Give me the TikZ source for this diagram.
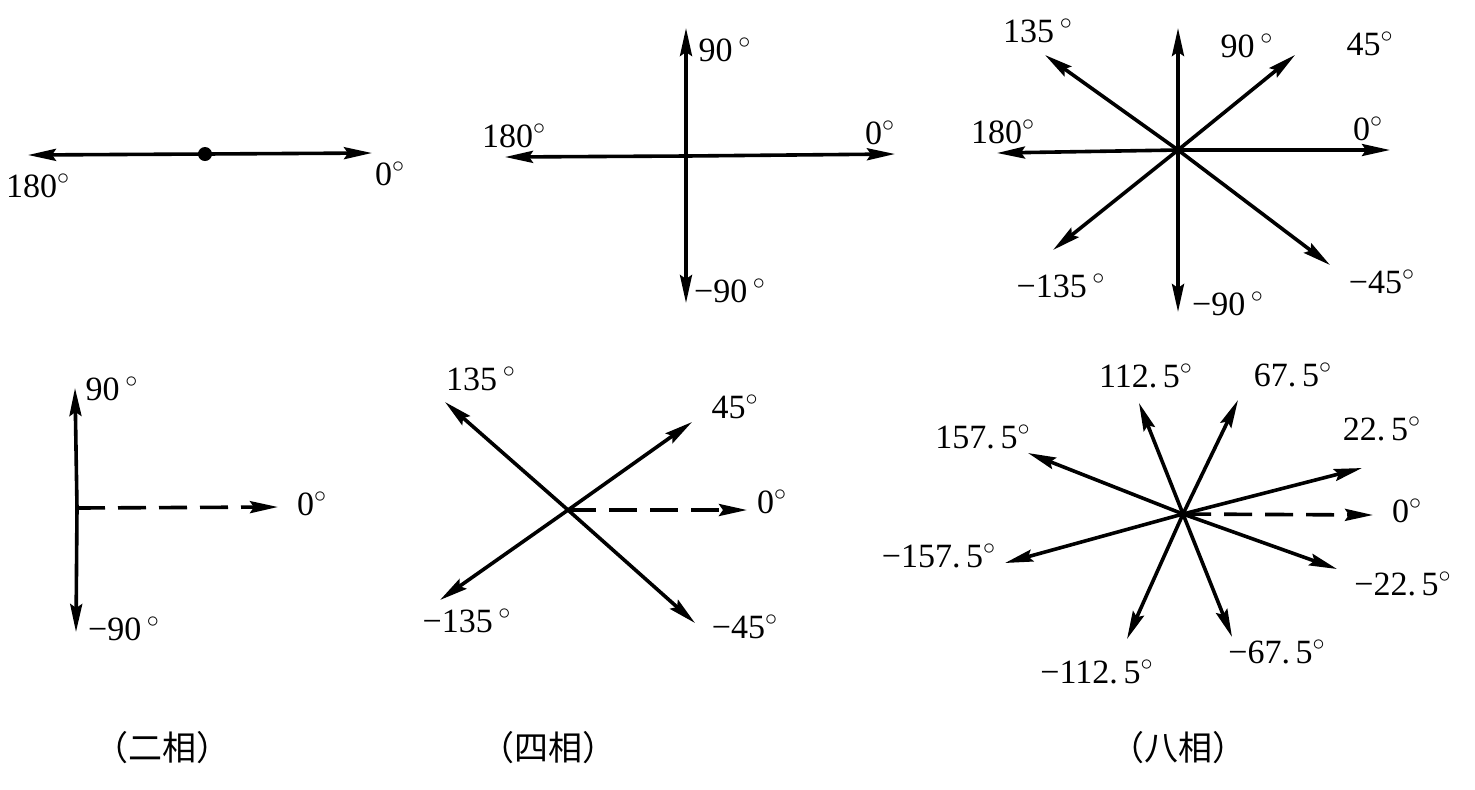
\documentclass[tikz,border=0pt]{standalone}
\usepackage{fontspec}
\setmainfont{Liberation Serif}
\newfontfamily\cjk{Noto Sans CJK SC}
\usetikzlibrary{arrows.meta}

\newcommand{\dg}{$^{\circ}$}

\begin{document}
\begin{tikzpicture}[x=0.5pt, y=-0.5pt,
        vec/.style={line width=1.8pt, -{Stealth[length=14pt, width=6pt, inset=2pt]}},
        dashvec/.style={vec, dash pattern=on 14pt off 6.5pt},
        deg/.style={font=\fontsize{17}{20}\selectfont, inner sep=0pt},
        caption/.style={font=\cjk\fontsize{17}{20}\selectfont, inner sep=0pt}]
        \useasboundingbox (0,0) rectangle (1475,789);

        % two phases, top
        \coordinate (twoA)      at (205,154);
        \coordinate (twoA0)     at (372,153);
        \coordinate (twoA180)   at (28,155);
        \draw[vec] (twoA) -- (twoA0);
        \draw[vec] (twoA) -- (twoA180);
        \fill (twoA) circle (3.5pt);
        \node[deg] (l-twoA180) at (38,186) {180\dg};
        \node[deg] (l-twoA0)   at (390,174) {0\dg};

        % four phases, top
        \coordinate (fourA)     at (686,156);
        \coordinate (fourA90)   at (686,28);
        \coordinate (fourAm90)  at (686,303);
        \coordinate (fourA180)  at (505,157);
        \coordinate (fourA0)    at (895,154);
        \draw[vec] (fourA) -- (fourA90);
        \draw[vec] (fourA) -- (fourAm90);
        \draw[vec] (fourA) -- (fourA180);
        \draw[vec] (fourA) -- (fourA0);
        \node[deg] (l-fourA90)  at (725,50) {90\,\dg};
        \node[deg] (l-fourAm90) at (730,291) {−90\,\dg};
        \node[deg] (l-fourA180) at (514,136) {180\dg};
        \node[deg] (l-fourA0)   at (880,133) {0\dg};

        % eight phases, top
        \coordinate (eightA)     at (1178,150);
        \coordinate (eightA0)    at (1390,150);
        \coordinate (eightA45)   at (1295,55);
        \coordinate (eightA90)   at (1178,28);
        \coordinate (eightA135)  at (1045,55);
        \coordinate (eightA180)  at (997,153);
        \coordinate (eightAm135) at (1053,250);
        \coordinate (eightAm90)  at (1178,312);
        \coordinate (eightAm45)  at (1330,265);
        \draw[vec] (eightA) -- (eightA0);
        \draw[vec] (eightA) -- (eightA45);
        \draw[vec] (eightA) -- (eightA90);
        \draw[vec] (eightA) -- (eightA135);
        \draw[vec] (eightA) -- (eightA180);
        \draw[vec] (eightA) -- (eightAm135);
        \draw[vec] (eightA) -- (eightAm90);
        \draw[vec] (eightA) -- (eightAm45);
        \node[deg] (l-eightA135)  at (1038,31) {135\,\dg};
        \node[deg] (l-eightA90)   at (1247,46) {90\,\dg};
        \node[deg] (l-eightA45)   at (1370,44) {45\dg};
        \node[deg] (l-eightA180)  at (1003,132) {180\dg};
        \node[deg] (l-eightA0)    at (1368,129) {0\dg};
        \node[deg] (l-eightAm135) at (1061,286) {−135\,\dg};
        \node[deg] (l-eightAm90)  at (1228,304) {−90\,\dg};
        \node[deg] (l-eightAm45)  at (1382,282) {−45\dg};

        % two phases, bottom
        \coordinate (twoB)      at (77,508);
        \coordinate (twoB90)    at (75,388);
        \coordinate (twoBm90)   at (76,632);
        \coordinate (twoB0)     at (278,507);
        \draw[vec] (twoB) -- (twoB90);
        \draw[vec] (twoB) -- (twoBm90);
        \draw[dashvec] (twoB) -- (twoB0);
        \node[deg] (l-twoB90)  at (112,389) {90\,\dg};
        \node[deg] (l-twoBm90) at (124,629) {−90\,\dg};
        \node[deg] (l-twoB0)   at (312,504) {0\dg};

        % four phases, bottom
        \coordinate (fourB)      at (568,510);
        \coordinate (fourB45)    at (692,422);
        \coordinate (fourB135)   at (445,402);
        \coordinate (fourBm135)  at (440,600);
        \coordinate (fourBm45)   at (695,623);
        \coordinate (fourB0)     at (747,510);
        \draw[vec] (fourB) -- (fourB45);
        \draw[vec] (fourB) -- (fourB135);
        \draw[vec] (fourB) -- (fourBm135);
        \draw[vec] (fourB) -- (fourBm45);
        \draw[dashvec] (fourB) -- (fourB0);
        \node[deg] (l-fourB135)  at (481,379) {135\,\dg};
        \node[deg] (l-fourB45)   at (735,407) {45\dg};
        \node[deg] (l-fourB0)    at (772,502) {0\dg};
        \node[deg] (l-fourBm135) at (467,621) {−135\,\dg};
        \node[deg] (l-fourBm45)  at (745,627) {−45\dg};

        % eight phases, bottom
        \coordinate (eightB)       at (1183,514);
        \coordinate (eightB22)     at (1362,468);
        \coordinate (eightB67)     at (1238,400);
        \coordinate (eightB112)    at (1139,403);
        \coordinate (eightB157)    at (1028,453);
        \coordinate (eightBm157)   at (1005,563);
        \coordinate (eightBm112)   at (1127,639);
        \coordinate (eightBm67)    at (1232,637);
        \coordinate (eightBm22)    at (1337,569);
        \coordinate (eightB0)      at (1373,515);
        \draw[vec] (eightB) -- (eightB22);
        \draw[vec] (eightB) -- (eightB67);
        \draw[vec] (eightB) -- (eightB112);
        \draw[vec] (eightB) -- (eightB157);
        \draw[vec] (eightB) -- (eightBm157);
        \draw[vec] (eightB) -- (eightBm112);
        \draw[vec] (eightB) -- (eightBm67);
        \draw[vec] (eightB) -- (eightBm22);
        \draw[dashvec] (eightB) -- (eightB0);
        \node[deg] (l-eightB112)  at (1146,376) {112.\,5\dg};
        \node[deg] (l-eightB67)   at (1293,375) {67.\,5\dg};
        \node[deg] (l-eightB157)  at (983,437) {157.\,5\dg};
        \node[deg] (l-eightB22)   at (1382,429) {22.\,5\dg};
        \node[deg] (l-eightB0)    at (1407,511) {0\dg};
        \node[deg] (l-eightBm157) at (939,556) {−157.\,5\dg};
        \node[deg] (l-eightBm22)  at (1403,584) {−22.\,5\dg};
        \node[deg] (l-eightBm67)  at (1277,652) {−67.\,5\dg};
        \node[deg] (l-eightBm112) at (1097,672) {−112.\,5\dg};

        % captions
        \node[caption] (cap-two)   at (162,748) {（二相）};
        \node[caption] (cap-four)  at (548,748) {（四相）};
        \node[caption] (cap-eight) at (1178,748) {（八相）};

    \end{tikzpicture}
\end{document}
